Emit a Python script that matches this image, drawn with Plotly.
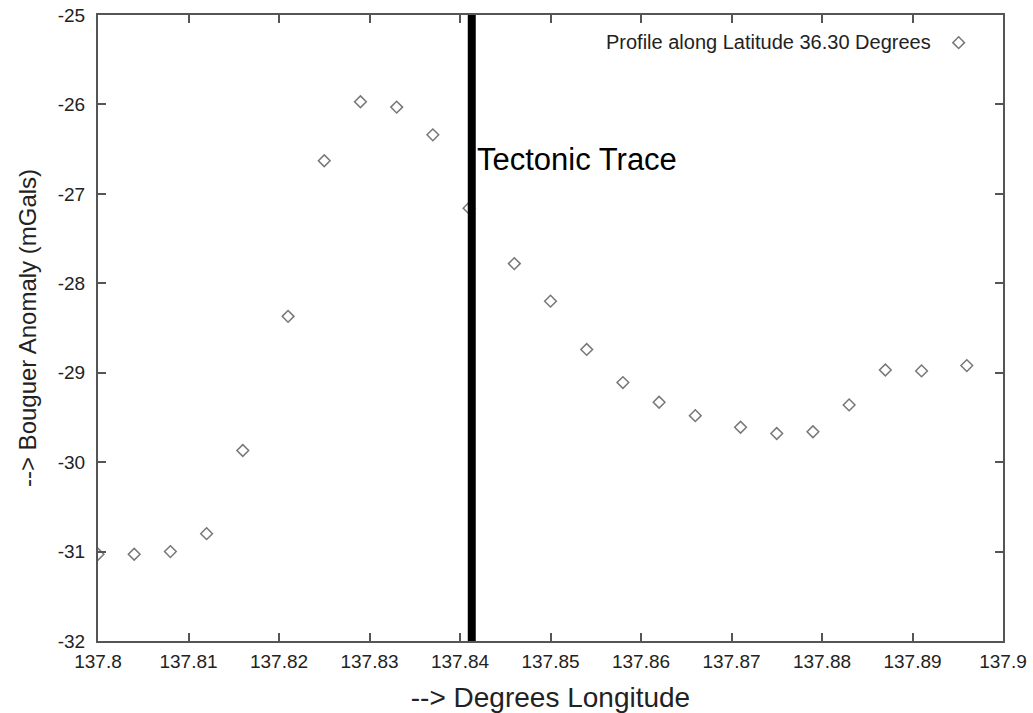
import plotly.graph_objects as go

# Data
longitude = [137.800, 137.804, 137.808, 137.812, 137.816, 137.821, 137.825, 137.829,
             137.833, 137.837, 137.841, 137.846, 137.850, 137.854, 137.858, 137.862,
             137.866, 137.871, 137.875, 137.879, 137.883, 137.887, 137.891, 137.896]
anomaly = [-31.03, -31.03, -31.00, -30.80, -29.87, -28.37, -26.63, -25.97,
           -26.03, -26.34, -27.16, -27.78, -28.20, -28.74, -29.11, -29.33,
           -29.48, -29.61, -29.68, -29.66, -29.36, -28.97, -28.98, -28.92]
tectonic_lon = 137.8413
y_limits = [-32, -25]
x_ticks = [137.80, 137.81, 137.82, 137.83, 137.84, 137.85, 137.86, 137.87, 137.88, 137.89, 137.90]
x_tick_text = ["137.8", "137.81", "137.82", "137.83", "137.84", "137.85",
               "137.86", "137.87", "137.88", "137.89", "137.9"]
y_ticks = [-32, -31, -30, -29, -28, -27, -26, -25]
y_tick_text = ["-32", "-31", "-30", "-29", "-28", "-27", "-26", "-25"]
series_name = "Profile along Latitude 36.30 Degrees"

FONT = "Liberation Sans, Arial, Helvetica, sans-serif"
AXIS_COLOR = "#555555"
TEXT_COLOR = "#222222"

fig = go.Figure()
fig.add_trace(go.Scatter(
    x=longitude, y=anomaly, mode="markers", name="",
    marker=dict(symbol="diamond-open", size=9, color="#777777",
                line=dict(width=1.5, color="#777777")),
    showlegend=True,
))
fig.add_trace(go.Scatter(
    x=[tectonic_lon, tectonic_lon], y=y_limits, mode="lines",
    line=dict(color="black", width=8), showlegend=False, hoverinfo="skip",
))

fig.add_annotation(
    x=tectonic_lon, y=-26.62, xref="x", yref="y", xanchor="left", yanchor="middle",
    xshift=3, text="Tectonic Trace", showarrow=False,
    font=dict(family=FONT, size=31, color="black"),
)

fig.update_layout(
    width=1033, height=713,
    margin=dict(l=98, r=30, t=15, b=72),
    paper_bgcolor="white", plot_bgcolor="white",
    font=dict(family=FONT, color=TEXT_COLOR, size=19),
    showlegend=True,
    legend=dict(
        x=0.979, y=0.987, xanchor="right", yanchor="top",
        bgcolor="rgba(0,0,0,0)", borderwidth=0,
        title=dict(text=series_name, side="left",
                   font=dict(family=FONT, size=20, color=TEXT_COLOR)),
        font=dict(family=FONT, size=20, color=TEXT_COLOR),
        itemwidth=30,
    ),
    xaxis=dict(
        range=[137.8, 137.9], tickvals=x_ticks, ticktext=x_tick_text,
        ticks="inside", ticklen=8, tickwidth=1.5, tickcolor=AXIS_COLOR,
        showline=True, linecolor=AXIS_COLOR, linewidth=2, mirror="ticks",
        showgrid=False, zeroline=False, automargin=False,
        tickfont=dict(family=FONT, size=19, color=TEXT_COLOR),
        ticklabelstandoff=2,
        title=dict(text="--> Degrees Longitude", standoff=20,
                   font=dict(family=FONT, size=28, color=TEXT_COLOR)),
    ),
    yaxis=dict(
        range=y_limits, tickvals=y_ticks, ticktext=y_tick_text,
        ticks="inside", ticklen=8, tickwidth=1.5, tickcolor=AXIS_COLOR,
        showline=True, linecolor=AXIS_COLOR, linewidth=2, mirror="ticks",
        showgrid=False, zeroline=False, automargin=False,
        tickfont=dict(family=FONT, size=19, color=TEXT_COLOR),
        ticklabelstandoff=7,
        title=dict(text="--> Bouguer Anomaly (mGals)", standoff=14,
                   font=dict(family=FONT, size=24, color=TEXT_COLOR)),
    ),
)

fig.write_html("out.html")
